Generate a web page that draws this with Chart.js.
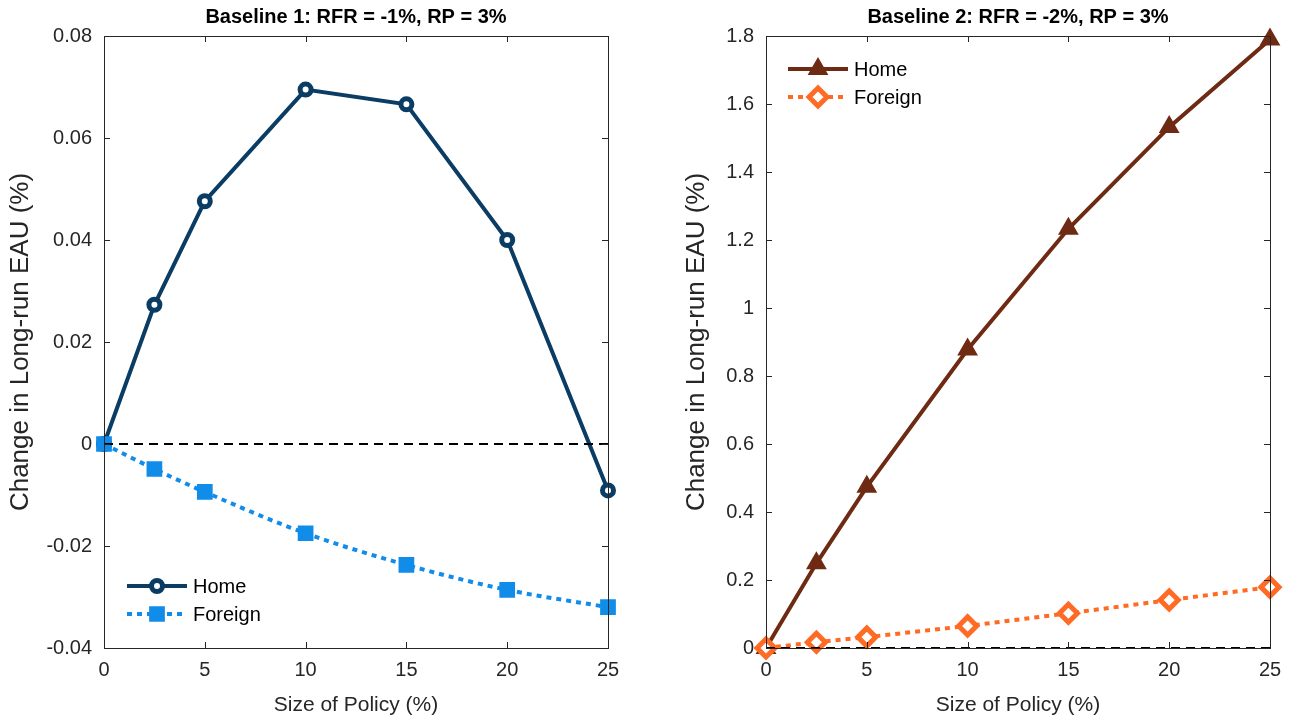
<!DOCTYPE html>
<html>
<head>
<meta charset="utf-8">
<script src="https://cdn.jsdelivr.net/npm/chart.js@4.4.1/dist/chart.umd.min.js"></script>
<style>
  html, body { margin: 0; padding: 0; background: #fff; }
  body { width: 1296px; height: 724px; position: relative; overflow: hidden; }
  .panel { position: absolute; top: 0; height: 724px; }
  #left { left: 0; width: 648px; }
  #right { left: 676px; width: 620px; }
</style>
</head>
<body>
<div class="panel" id="left"><canvas id="chartLeft"></canvas></div>
<div class="panel" id="right"><canvas id="chartRight"></canvas></div>
<script>
// policy sizes (%)
const policySizes = [0, 2.5, 5, 10, 15, 20, 25]

// baseline 1
const leftTitle = "Baseline 1: RFR = -1%, RP = 3%"
const leftHome = [0, 0.0273, 0.0476, 0.0695, 0.0666, 0.0400, -0.0091]
const leftForeign = [0, -0.0049, -0.0094, -0.0175, -0.0237, -0.0286, -0.0320]
const leftYTicks = [-0.04, -0.02, 0, 0.02, 0.04, 0.06, 0.08]
const leftYLabels = ["-0.04", "-0.02", "0", "0.02", "0.04", "0.06", "0.08"]

// baseline 2
const rightTitle = "Baseline 2: RFR = -2%, RP = 3%"
const rightHome = [0, 0.249, 0.474, 0.878, 1.233, 1.532, 1.790]
const rightForeign = [0, 0.017, 0.032, 0.065, 0.102, 0.141, 0.179]
const rightYTicks = [0, 0.2, 0.4, 0.6, 0.8, 1, 1.2, 1.4, 1.6, 1.8]
const rightYLabels = ["0", "0.2", "0.4", "0.6", "0.8", "1", "1.2", "1.4", "1.6", "1.8"]

const xTicks = [0, 5, 10, 15, 20, 25]
const xLabels = ["0", "5", "10", "15", "20", "25"]
const seriesNames = ["Home", "Foreign"]

const FONT = "'Liberation Sans', Arial, Helvetica, sans-serif"
const TXT = "#262626"

function pts(vals) {
  return vals.map((v, i) => ({ x: policySizes[i], y: v }))
}

// box, inward ticks on all sides, title, legend
const matlabAxes = {
  id: "matlabAxes",
  afterDraw(chart, args, opts) {
    const ctx = chart.ctx
    const a = chart.chartArea
    const sx = chart.scales.x
    const sy = chart.scales.y
    ctx.save()
    ctx.strokeStyle = TXT
    ctx.lineWidth = 1
    ctx.strokeRect(a.left + 0.5, a.top + 0.5, a.right - a.left, a.bottom - a.top)
    ctx.beginPath()
    sx.ticks.forEach((t) => {
      const x = Math.round(sx.getPixelForValue(t.value)) + 0.5
      ctx.moveTo(x, a.bottom); ctx.lineTo(x, a.bottom - 6)
      ctx.moveTo(x, a.top); ctx.lineTo(x, a.top + 6)
    })
    sy.ticks.forEach((t) => {
      const y = Math.round(sy.getPixelForValue(t.value)) + 0.5
      ctx.moveTo(a.left, y); ctx.lineTo(a.left + 6, y)
      ctx.moveTo(a.right, y); ctx.lineTo(a.right - 6, y)
    })
    ctx.stroke()

    // title
    ctx.fillStyle = "#000"
    ctx.font = "bold 20px " + FONT
    ctx.textAlign = "center"
    ctx.textBaseline = "middle"
    ctx.fillText(opts.title, (a.left + a.right) / 2, 17)

    // legend
    const lg = opts.legend
    ctx.font = "20px " + FONT
    ctx.textAlign = "left"
    lg.items.forEach((idx, k) => {
      const ds = chart.data.datasets[idx]
      const y = lg.y + k * lg.gap
      ctx.save()
      ctx.strokeStyle = ds.borderColor
      ctx.lineWidth = ds.borderWidth
      ctx.setLineDash(ds.borderDash || [])
      ctx.beginPath()
      ctx.moveTo(lg.x, y); ctx.lineTo(lg.x + 60, y)
      ctx.stroke()
      ctx.restore()
      ctx.save()
      ctx.fillStyle = ds.pointBackgroundColor
      ctx.strokeStyle = ds.pointBorderColor
      ctx.lineWidth = ds.pointBorderWidth
      Chart.helpers.drawPoint(ctx, {
        pointStyle: ds.pointStyle,
        radius: ds.pointRadius,
        borderWidth: ds.pointBorderWidth,
        rotation: 0
      }, lg.x + 30, y)
      ctx.restore()
      ctx.fillStyle = "#000"
      ctx.fillText(seriesNames[k], lg.x + 66, y + 1)
    })
    ctx.restore()
  }
}

function lineSet(vals, color, style, radius, bg, dash, width, pbw) {
  return {
    data: pts(vals),
    borderColor: color,
    backgroundColor: bg,
    borderWidth: width,
    borderDash: dash,
    pointStyle: style,
    pointRadius: radius,
    pointBorderWidth: pbw,
    pointBackgroundColor: bg,
    pointBorderColor: color,
    clip: false,
    tension: 0
  }
}

function makeChart(id, title, home, foreign, yTicks, yLabels, colors, yWidth, padRight, legend) {
  const zero = {
    data: [{ x: 0, y: 0 }, { x: 25, y: 0 }],
    borderColor: "#000",
    borderWidth: 2,
    borderDash: [9, 6],
    pointRadius: 0,
    clip: false
  }
  return new Chart(document.getElementById(id), {
    type: "line",
    data: {
      datasets: [
        zero,
        Object.assign(lineSet(foreign, colors.foreign, colors.fStyle, colors.fRad, colors.fBg, [5, 5], 4, colors.fBw), colors.fExtra || {}),
        lineSet(home, colors.home, colors.hStyle, colors.hRad, colors.hBg, [], 4, colors.hBw)
      ]
    },
    options: {
      responsive: true,
      maintainAspectRatio: false,
      animation: false,
      layout: { padding: { top: 36, right: padRight, left: 0, bottom: 0 } },
      plugins: {
        legend: { display: false },
        tooltip: { enabled: false },
        matlabAxes: { title: title, legend: legend }
      },
      scales: {
        x: {
          type: "linear",
          min: 0,
          max: 25,
          afterBuildTicks: (s) => { s.ticks = xTicks.map((v) => ({ value: v })) },
          afterFit: (s) => { s.height = 76 },
          grid: { display: false, drawTicks: false },
          border: { display: false },
          ticks: {
            padding: 10,
            color: TXT,
            font: { family: FONT, size: 20 },
            callback: (v, i) => xLabels[i]
          },
          title: {
            display: true,
            text: "Size of Policy (%)",
            color: TXT,
            font: { family: FONT, size: 21 },
            padding: { top: 0, bottom: 6 }
          }
        },
        y: {
          type: "linear",
          min: yTicks[0],
          max: yTicks[yTicks.length - 1],
          afterBuildTicks: (s) => { s.ticks = yTicks.map((v) => ({ value: v })) },
          afterFit: (s) => { s.width = yWidth },
          grid: { display: false, drawTicks: false },
          border: { display: false },
          ticks: {
            padding: 12,
            color: TXT,
            font: { family: FONT, size: 20 },
            callback: (v, i) => yLabels[i]
          },
          title: {
            display: true,
            text: "Change in Long-run EAU (%)",
            color: TXT,
            font: { family: FONT, size: 26 },
            padding: { top: 5, bottom: 0 }
          }
        }
      }
    },
    plugins: [matlabAxes]
  })
}

makeChart("chartLeft", leftTitle, leftHome, leftForeign, leftYTicks, leftYLabels, {
  home: "#0b3c63", hStyle: "circle", hRad: 5.5, hBg: "#ffffff", hBw: 5,
  foreign: "#118ce9", fStyle: "rect", fRad: 9, fBg: "#118ce9", fBw: 3,
  fExtra: { cubicInterpolationMode: "monotone" }
}, 104, 40, { x: 127, y: 586, gap: 28, items: [2, 1] })

makeChart("chartRight", rightTitle, rightHome, rightForeign, rightYTicks, rightYLabels, {
  home: "#6e2a12", hStyle: "triangle", hRad: 9, hBg: "#6e2a12", hBw: 3,
  foreign: "#ff6b24", fStyle: "rectRot", fRad: 9, fBg: "#ffffff", fBw: 5
}, 90, 26, { x: 112, y: 69, gap: 28, items: [2, 1] })
</script>
</body>
</html>
